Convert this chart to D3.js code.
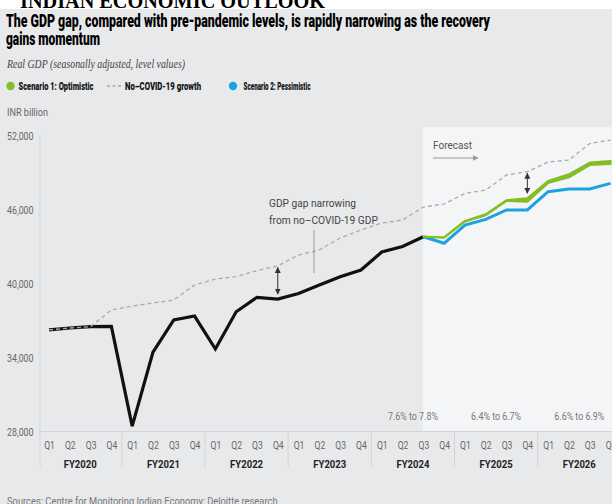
<!DOCTYPE html>
<html><head><meta charset="utf-8">
<script src="https://cdn.jsdelivr.net/npm/d3@7"></script>
<style>body{margin:0;}svg{display:block;}</style>
</head><body>
<svg id="c" width="612" height="504"></svg>
<script>
// ---- data ----
const quarters = ["Q1","Q2","Q3","Q4"];
const fiscalYears = ["FY2020","FY2021","FY2022","FY2023","FY2024","FY2025","FY2026"];
const actualGDP = [36200,36350,36460,36480,28400,34400,37000,37320,34650,37670,38840,38700,39150,39840,40510,41050,42510,42960,43750];
const noCovidGDP = [36200,36350,36460,37810,38130,38380,38620,39840,40320,40510,41000,41380,42270,42680,43650,44300,44860,45110,46160,46410,47260,47540,48760,49020,49810,49970,51310,51590];
const forecastStart = 18;
const optimisticHigh = [43750,43700,45030,45570,46710,46870,48270,48810,49760,49890];
const optimisticLow  = [43750,43680,45000,45500,46670,46590,48110,48570,49570,49650];
const pessimistic    = [43750,43220,44700,45160,45920,45920,47400,47620,47620,48080];
const yTicks = [28000,34000,40000,46000,52000];
const growthYears = ["FY2024","FY2025","FY2026"];
const growthLabels = ["7.6% to 7.8%","6.4% to 6.7%","6.6% to 6.9%"];

const svg = d3.select("#c");
const W = 612, H = 504;
const FONT = "Roboto, 'Liberation Sans', sans-serif";
function fit(sel, w){ sel.attr("textLength", w).attr("lengthAdjust","spacingAndGlyphs"); return sel; }
function condense(sel, f){ sel.each(function(){ const n=this.getComputedTextLength(); d3.select(this).attr("textLength", n*f).attr("lengthAdjust","spacingAndGlyphs"); }); return sel; }

// backgrounds
svg.append("rect").attr("width",W).attr("height",H).attr("fill","#e8e9eb");
svg.append("rect").attr("width",W).attr("height",9).attr("fill","#ffffff");

const nQ = quarters.length * fiscalYears.length;
const x = d3.scaleLinear().domain([0, nQ-1]).range([49, 610.5]);
const y = d3.scaleLinear().domain([28000, 52000]).range([431, 135]);

// forecast shading
svg.append("rect").attr("x", x(forecastStart)-0.5).attr("y",127)
  .attr("width", W - x(forecastStart)).attr("height", y(28000)-127).attr("fill","#f4f5f7");

// header texts
svg.append("text").attr("x",20).attr("y",8).attr("font-family","'Liberation Serif', serif")
  .attr("font-weight","bold").attr("font-size",20).attr("fill","#000").text("INDIAN ECONOMIC OUTLOOK")
  .call(fit, 305);
svg.append("text").attr("x",6).attr("y",27).attr("font-family",FONT).attr("font-weight",900)
  .attr("font-size",17.5).attr("fill","#000")
  .text("The GDP gap, compared with pre-pandemic levels, is rapidly narrowing as the recovery").call(fit,484);
svg.append("text").attr("x",6).attr("y",45).attr("font-family",FONT).attr("font-weight",900)
  .attr("font-size",17.5).attr("fill","#000").text("gains momentum").call(fit,94);
svg.append("text").attr("x",7).attr("y",68).attr("font-family","'Liberation Serif', serif")
  .attr("font-style","italic").attr("font-size",13).attr("fill","#444")
  .text("Real GDP (seasonally adjusted, level values)").call(fit,178);

// legend
const green = "#86bc25", blue = "#1ba3e0";
svg.append("circle").attr("cx",10.5).attr("cy",86).attr("r",4.2).attr("fill",green);
svg.append("text").attr("x",18.5).attr("y",89.5).attr("font-family",FONT).attr("font-weight",900)
  .attr("font-size",10).attr("fill","#111").text("Scenario 1: Optimistic").call(fit,75);
svg.append("line").attr("x1",107).attr("x2",121).attr("y1",86).attr("y2",86)
  .attr("stroke","#888").attr("stroke-width",1).attr("stroke-dasharray","3,2.5");
svg.append("text").attr("x",125).attr("y",89.5).attr("font-family",FONT).attr("font-weight",900)
  .attr("font-size",10).attr("fill","#111").text("No–COVID-19 growth").call(fit,76);
svg.append("circle").attr("cx",233).attr("cy",86).attr("r",4.2).attr("fill",blue);
svg.append("text").attr("x",243.5).attr("y",89.5).attr("font-family",FONT).attr("font-weight",900)
  .attr("font-size",10).attr("fill","#111").text("Scenario 2: Pessimistic").call(fit,67);

svg.append("text").attr("x",7).attr("y",116).attr("font-family",FONT).attr("font-size",10)
  .attr("fill","#666").text("INR billion").call(fit,41);

// y axis
svg.append("line").attr("x1",40).attr("x2",40).attr("y1",y(52000)).attr("y2",467)
  .attr("stroke","#d3d4d7").attr("stroke-width",1);
const yAx = svg.append("g").attr("transform","translate(40,0)")
  .call(d3.axisLeft(y).tickValues(yTicks).tickSize(0).tickFormat(d3.format(",")));
yAx.select(".domain").remove();
yAx.selectAll("text").attr("x",-33).attr("text-anchor","start").attr("dy","0.35em")
  .attr("font-family",FONT).attr("font-size",11.5).attr("fill","#666").call(fit,26.5);

// x axis
svg.append("line").attr("x1",40).attr("x2",W).attr("y1",y(28000)+0.5).attr("y2",y(28000)+0.5)
  .attr("stroke","#d3d4d7");
const idx = d3.range(nQ);
const xAx = svg.append("g").attr("transform",`translate(0,${y(28000)})`)
  .call(d3.axisBottom(x).tickValues(idx).tickSize(0).tickFormat(i => quarters[i % 4]));
xAx.select(".domain").remove();
xAx.selectAll("text").attr("y",18).attr("dy",0).attr("font-family",FONT).attr("font-size",11)
  .attr("fill","#666").call(condense,0.78);
// group separators and FY labels
fiscalYears.forEach((fy, g) => {
  if (g > 0) {
    const sx = (x(g*4-1) + x(g*4)) / 2;
    svg.append("line").attr("x1",sx).attr("x2",sx).attr("y1",y(28000)+1).attr("y2",467)
      .attr("stroke","#d3d4d7");
  }
  const cx = (x(g*4) + x(g*4+3)) / 2;
  svg.append("text").attr("x",cx).attr("y",467.5).attr("text-anchor","middle")
    .attr("font-family",FONT).attr("font-weight","bold").attr("font-size",11).attr("fill","#222")
    .text(fy).call(fit,33);
});
// growth labels
growthYears.forEach((fy, k) => {
  const g = fiscalYears.indexOf(fy);
  const cx = (x(g*4) + x(g*4+3)) / 2;
  svg.append("text").attr("x",cx).attr("y",419.5).attr("text-anchor","middle")
    .attr("font-family",FONT).attr("font-size",11).attr("fill","#777").text(growthLabels[k]).call(fit,50);
});

// lines
const line = d3.line().x(d => x(d[0])).y(d => y(d[1]));
svg.append("path").datum(actualGDP.map((v,i)=>[i,v])).attr("d",line)
  .attr("fill","none").attr("stroke","#111").attr("stroke-width",3.2).attr("stroke-linejoin","miter");
svg.append("path").datum(pessimistic.map((v,i)=>[i+forecastStart,v])).attr("d",line)
  .attr("fill","none").attr("stroke",blue).attr("stroke-width",3);
const area = d3.area().x(d => x(d[0])).y0(d => y(d[1])).y1(d => y(d[2]));
const optData = optimisticHigh.map((v,i)=>[i+forecastStart, optimisticLow[i], v]);
svg.append("path").datum(optData).attr("d",area)
  .attr("fill",green).attr("stroke",green).attr("stroke-width",2.2).attr("stroke-linejoin","round");
svg.append("path").datum(noCovidGDP.map((v,i)=>[i,v])).attr("d",line)
  .attr("fill","none").attr("stroke","#a9aaad").attr("stroke-width",1.3).attr("stroke-dasharray","4,3");

// arrows
const defs = svg.append("defs");
defs.append("marker").attr("id","ah").attr("viewBox","0 0 10 10").attr("refX",9).attr("refY",5)
  .attr("markerWidth",6).attr("markerHeight",6).attr("orient","auto-start-reverse")
  .append("path").attr("d","M0,0L10,5L0,10z").attr("fill","#333");
defs.append("marker").attr("id","ahg").attr("viewBox","0 0 10 10").attr("refX",9).attr("refY",5)
  .attr("markerWidth",6).attr("markerHeight",6).attr("orient","auto")
  .append("path").attr("d","M0,0L10,5L0,10z").attr("fill","#999");
function dblArrow(i, top, bottom){
  svg.append("line").attr("x1",x(i)).attr("x2",x(i)).attr("y1",y(top)+1.5).attr("y2",y(bottom)-5)
    .attr("stroke","#333").attr("stroke-width",1)
    .attr("marker-start","url(#ah)").attr("marker-end","url(#ah)");
}
dblArrow(11, noCovidGDP[11], actualGDP[11]);
dblArrow(23, noCovidGDP[23], optimisticHigh[23-forecastStart]);

// annotation
svg.append("line").attr("x1",314).attr("x2",314).attr("y1",230).attr("y2",273).attr("stroke","#999");
svg.append("text").attr("x",269).attr("y",207).attr("font-family",FONT).attr("font-size",11.5)
  .attr("fill","#444").text("GDP gap narrowing").call(fit,87);
svg.append("text").attr("x",269).attr("y",224).attr("font-family",FONT).attr("font-size",11.5)
  .attr("fill","#444").text("from no–COVID-19 GDP").call(fit,109);

// forecast label
svg.append("text").attr("x",433).attr("y",148.5).attr("font-family",FONT).attr("font-size",11.5)
  .attr("fill","#555").text("Forecast").call(fit,39);
svg.append("line").attr("x1",433).attr("x2",478).attr("y1",158).attr("y2",158)
  .attr("stroke","#999").attr("stroke-width",1).attr("marker-end","url(#ahg)");

// source
svg.append("text").attr("x",7).attr("y",505).attr("font-family",FONT).attr("font-size",11.5)
  .attr("fill","#777").text("Sources: Centre for Monitoring Indian Economy; Deloitte research.").call(fit,273);
</script>
</body></html>
